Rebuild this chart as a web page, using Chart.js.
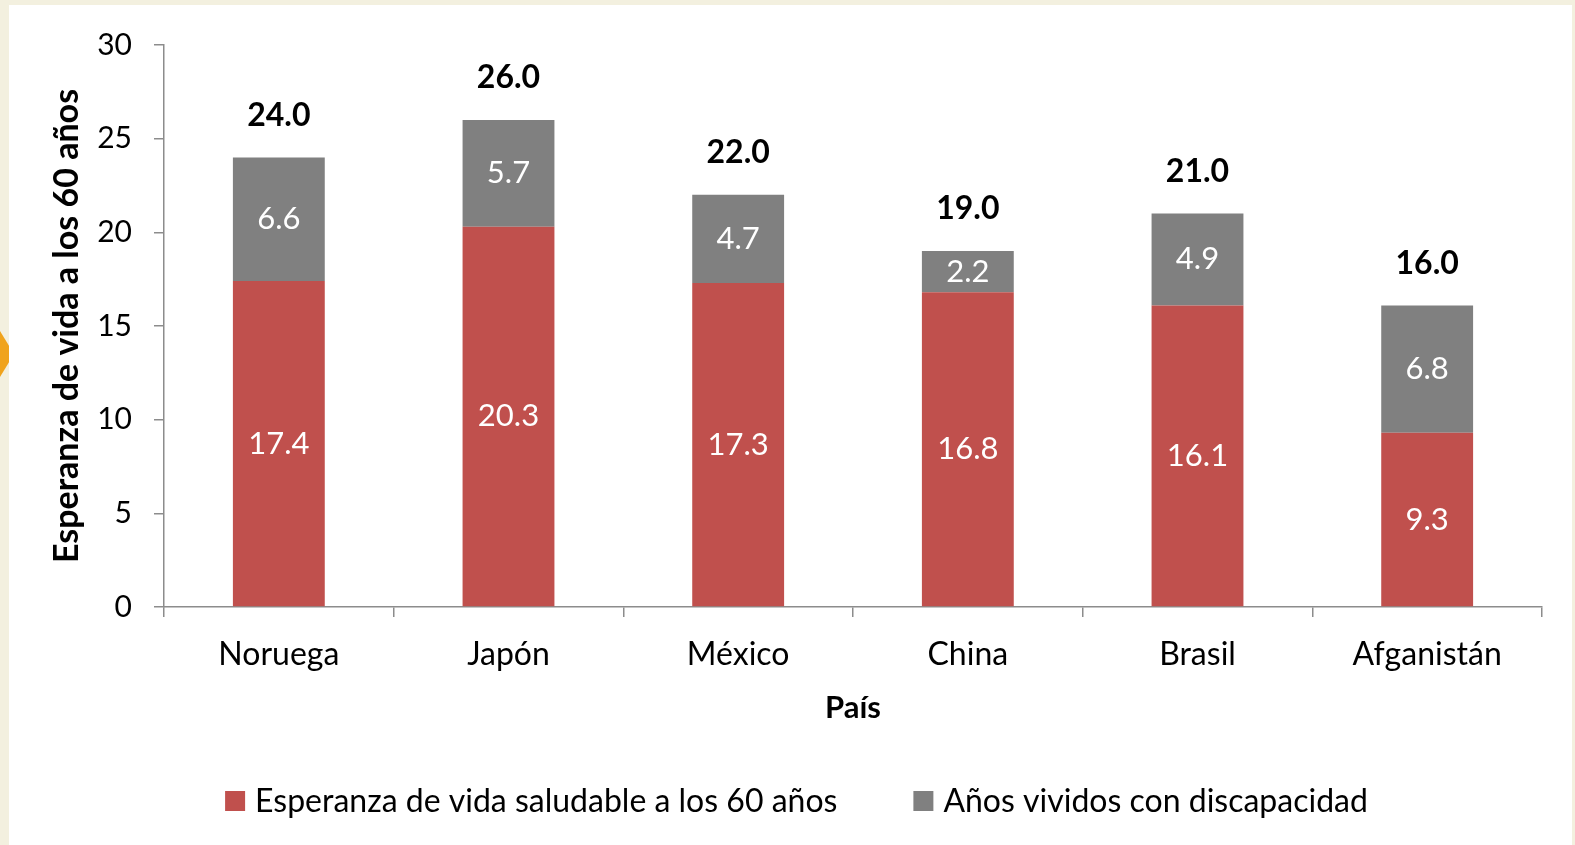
<!DOCTYPE html>
<html>
<head>
<meta charset="utf-8">
<script src="https://cdn.jsdelivr.net/npm/chart.js@4.4.0/dist/chart.umd.min.js"></script>
<style>
  body{margin:0;width:1575px;height:845px;overflow:hidden;position:relative;background:#f3f0df;}
  #tri{position:absolute;left:0;top:331px;width:0;height:0;border-top:23px solid transparent;border-bottom:23px solid transparent;border-left:14px solid #f0a31c;}
  #panel{position:absolute;left:9px;top:5px;width:1563px;height:840px;background:#fff;}
</style>
</head>
<body>
<div id="tri"></div>
<div id="panel"><canvas id="chart" width="1563" height="840"></canvas></div>
<script>
// ================= DATA =================
const countries = ["Noruega", "Japón", "México", "China", "Brasil", "Afganistán"];
const healthy = [17.4, 20.3, 17.3, 16.8, 16.1, 9.3];
const disability = [6.6, 5.7, 4.7, 2.2, 4.9, 6.8];
const totals = [24.0, 26.0, 22.0, 19.0, 21.0, 16.0];
const yTicks = [0, 5, 10, 15, 20, 25, 30];

const FONT = "Lato";
const RED = "#c0504d";
const GREY = "#808080";
const AXIS = "#8c8c8c";

// ================= LABELS + LEGEND =================
const barLabels = {
  id: "barLabels",
  afterDatasetsDraw(chart){
    const ctx = chart.ctx;
    ctx.save();
    ctx.textAlign = "center";
    ctx.textBaseline = "middle";

    // values inside the bars
    ctx.font = "31px " + FONT;
    ctx.fillStyle = "#fff";
    chart.data.datasets.forEach((ds, di) => {
      chart.getDatasetMeta(di).data.forEach((bar, i) => {
        ctx.fillText(ds.data[i].toFixed(1), bar.x, (bar.y + bar.base) / 2);
      });
    });

    // totals on top
    ctx.font = "bold 32px " + FONT;
    ctx.fillStyle = "#000";
    chart.getDatasetMeta(1).data.forEach((bar, i) => {
      ctx.fillText(totals[i].toFixed(1), bar.x, bar.y - 42);
    });

    // legend
    ctx.font = "32px " + FONT;
    ctx.textAlign = "left";
    const box = 20, gap = 10, itemGap = 76, y = 796;
    const items = chart.data.datasets.map(ds => ({
      text: ds.label, color: ds.backgroundColor, w: box + gap + ctx.measureText(ds.label).width
    }));
    const total = items.reduce((s, it) => s + it.w, 0) + itemGap * (items.length - 1);
    let x = (chart.width - total) / 2 + 6;
    items.forEach(it => {
      ctx.fillStyle = it.color;
      ctx.fillRect(x, y - box / 2, box, box);
      ctx.fillStyle = "#000";
      ctx.fillText(it.text, x + box + gap, y + 1);
      x += it.w + itemGap;
    });
    ctx.restore();
  }
};

// ================= CHART =================
new Chart(document.getElementById("chart"), {
  type: "bar",
  data: {
    labels: countries,
    datasets: [
      { label: "Esperanza de vida saludable a los 60 años", data: healthy, backgroundColor: RED },
      { label: "Años vividos con discapacidad", data: disability, backgroundColor: GREY }
    ]
  },
  options: {
    responsive: false,
    animation: false,
    events: [],
    layout: { padding: { top: 34, right: 30, bottom: 108, left: 0 } },
    plugins: {
      legend: { display: false },
      tooltip: { enabled: false }
    },
    datasets: { bar: { barPercentage: 0.8, categoryPercentage: 0.5 } },
    scales: {
      x: {
        stacked: true,
        afterFit: s => { s.height = 130; },
        border: { color: AXIS, width: 1.5 },
        grid: { offset: true, drawOnChartArea: false, tickLength: 10, color: AXIS, lineWidth: 1.5 },
        ticks: { color: "#000", font: { family: FONT, size: 32 }, padding: 18 },
        title: { display: true, text: "País", color: "#000", font: { family: FONT, size: 31, weight: "bold" }, padding: { top: 0, bottom: 10 } }
      },
      y: {
        stacked: true,
        min: 0,
        max: 30,
        afterFit: s => { s.width = 155; },
        afterBuildTicks: s => { s.ticks = yTicks.map(v => ({ value: v })); },
        border: { color: AXIS, width: 1.5 },
        grid: { drawOnChartArea: false, tickLength: 10, color: AXIS, lineWidth: 1.5 },
        ticks: { color: "#000", font: { family: FONT, size: 30 }, padding: 22 },
        title: { display: true, text: "Esperanza de vida a los 60 años", color: "#000", font: { family: FONT, size: 34, weight: "bold" }, padding: { top: 38, bottom: 0 } }
      }
    }
  },
  plugins: [barLabels]
});
</script>
</body>
</html>
